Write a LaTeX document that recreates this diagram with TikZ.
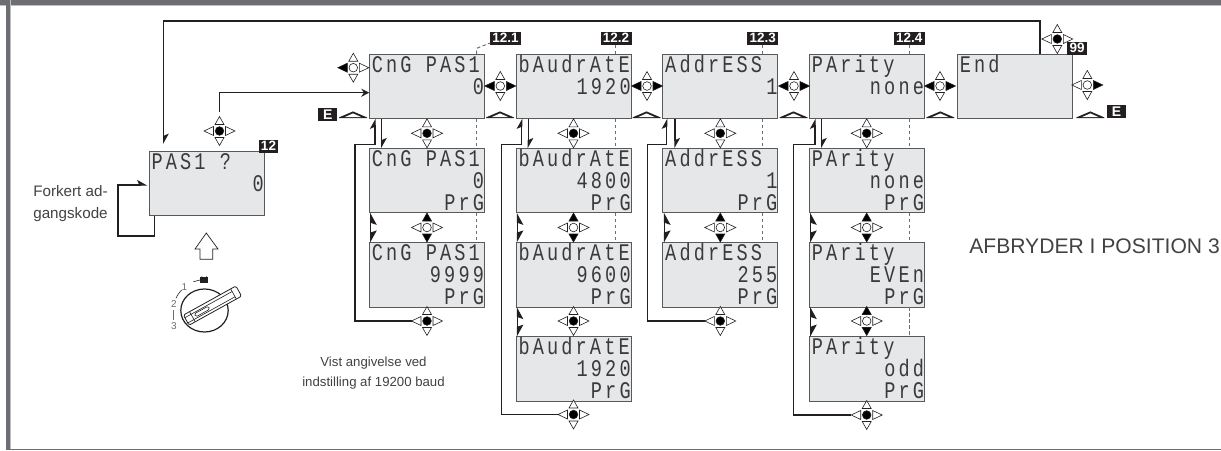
\documentclass[tikz,border=0pt]{standalone}
\usepackage{fontspec}
\setmainfont{Liberation Sans}
\newfontfamily\lcdfont[FakeStretch=0.78,LetterSpace=13.2]{Liberation Mono}
\usetikzlibrary{arrows.meta,calc}
\definecolor{band}{HTML}{6D6E71}
\definecolor{bandlight}{HTML}{BCBEC0}
\definecolor{ink}{HTML}{231F20}
\definecolor{lcdbg}{HTML}{E6E7E8}
\definecolor{lcdedge}{HTML}{58595B}
\definecolor{lcdink}{HTML}{3A3A3C}
\definecolor{kW}{HTML}{FFFFFF}
\definecolor{kB}{HTML}{000000}
\tikzset{
  dispbox/.style={draw=lcdedge,line width=1pt,fill=lcdbg,minimum width=115pt,minimum height=64.5pt,inner sep=0pt,outer sep=0pt,anchor=north west},
  lcdl/.style={font=\lcdfont\fontsize{23.83}{24}\selectfont,text=lcdink,inner sep=0pt,outer sep=0pt,anchor=base west},
  lcdr/.style={font=\lcdfont\fontsize{23.83}{24}\selectfont,text=lcdink,inner sep=0pt,outer sep=0pt,anchor=base east},
  conn/.style={draw=ink,line width=1.4pt,line join=miter},
  harp/.style={-{Stealth[harpoon,length=9pt,width=10pt,inset=2pt]}},
  twohead/.style={draw=ink,line width=1.1pt,{Stealth[harpoon,swap,length=11pt,width=12pt,inset=2pt]}-{Stealth[harpoon,length=11pt,width=12pt,inset=2pt]}},
  dashline/.style={draw=band,line width=1pt,dash pattern=on 3.5pt off 2.5pt},
  tag/.style={fill=ink,text=white,font=\bfseries\fontsize{13.5}{14}\selectfont,inner sep=0pt,outer sep=0pt,minimum height=13pt,anchor=north west},
  kpnode/.style={inner sep=0pt,outer sep=0pt,minimum size=31pt},
  kptri/.style={draw=ink,line width=.6pt,line join=miter},
  note/.style={font=\fontsize{13.2}{16}\selectfont,text=ink!85,inner sep=0pt,outer sep=0pt},
  lockdig/.style={font=\fontsize{10}{10}\selectfont,text=band,inner sep=0pt},
}
% name x y up down left right centre
\newcommand{\kpad}[8]{%
  \node[kpnode] (#1) at (#2,#3) {};
  \begin{scope}[shift={(#2,#3)}]
    \filldraw[kptri,fill=#4] (0,-14.5) -- (4.5,-6.5) -- (-4.5,-6.5) -- cycle;
    \filldraw[kptri,fill=#5] (0,14.5) -- (4.5,6.5) -- (-4.5,6.5) -- cycle;
    \filldraw[kptri,fill=#6] (-15.5,0) -- (-6,4.5) -- (-6,-4.5) -- cycle;
    \filldraw[kptri,fill=#7] (15.5,0) -- (6,4.5) -- (6,-4.5) -- cycle;
    \filldraw[kptri,fill=#8] (0,0) circle (4.3);
  \end{scope}}
% name x y line1 line2 line3
\newcommand{\lcd}[6]{%
  \node[dispbox] (#1) at (#2,#3) {};
  \node[lcdl] (#1-a) at ($(#1.north west)+(2.5,18)$) {#4};
  \node[lcdr] (#1-b) at ($(#1.north east)+(-.3,40)$) {#5};
  \node[lcdr] (#1-c) at ($(#1.north east)+(-.3,62)$) {#6};}
% centre x, base y
\newcommand{\eap}[3]{%
  \node[inner sep=0pt,minimum size=1pt] (#1) at (#2,#3) {};
  \fill[ink] (#2-14,#3) -- (#2,#3-6) -- (#2+14,#3) -- (#2+14,#3+.8) -- (#2-14,#3+.8) -- cycle;
  \fill[white] (#2-8.5,#3-.2) -- (#2,#3-4) -- (#2+8.5,#3-.2) -- cycle;}
\begin{document}
\begin{tikzpicture}[x=1pt,y=-1pt]
\useasboundingbox (0,0) rectangle (1221,450);
% frame
\fill[white] (0,0) rectangle (1221,450);
\fill[bandlight] (0,0) rectangle (1221,5.5);
\fill[band] (0,0) rectangle (1221,4.5);
\fill[band] (6,0) rectangle (10,450);
\fill[bandlight] (10,0) rectangle (11.2,449);
\fill[band] (6,448.6) rectangle (1221,449.8);

% displays
\lcd{dA}{149}{151}{PAS1 ?}{0}{}
\lcd{a1}{369.3}{54}{CnG PAS1}{0}{}
\lcd{b1}{516}{54}{bAudrAtE}{1920}{}
\lcd{c1}{662.7}{54}{AddrESS}{1}{}
\lcd{e1}{809.3}{54}{PArity}{none}{}
\lcd{f1}{957.3}{54}{End}{}{}
\lcd{a2}{369.3}{148.3}{CnG PAS1}{0}{PrG}
\lcd{b2}{516}{148.3}{bAudrAtE}{4800}{PrG}
\lcd{c2}{662.7}{148.3}{AddrESS}{1}{PrG}
\lcd{e2}{809.3}{148.3}{PArity}{none}{PrG}
\lcd{a3}{369.3}{242.5}{CnG PAS1}{9999}{PrG}
\lcd{b3}{516}{242.5}{bAudrAtE}{9600}{PrG}
\lcd{c3}{662.7}{242.5}{AddrESS}{255}{PrG}
\lcd{e3}{809.3}{242.5}{PArity}{EVEn}{PrG}
\lcd{b4}{516}{336.7}{bAudrAtE}{1920}{PrG}
\lcd{e4}{809.3}{336.7}{PArity}{odd}{PrG}

% keypads
\kpad{kA}{219.5}{131}{kW}{kW}{kW}{kW}{kB}
\kpad{kL}{353.3}{67.7}{kW}{kW}{kB}{kW}{kW}
\kpad{kab}{500.3}{86}{kW}{kW}{kB}{kB}{kW}
\kpad{kbc}{647}{86}{kW}{kW}{kB}{kB}{kW}
\kpad{kce}{794}{86}{kW}{kW}{kB}{kB}{kW}
\kpad{kef}{940}{86}{kW}{kW}{kB}{kB}{kW}
\kpad{kR}{1087.3}{85}{kW}{kW}{kW}{kB}{kW}
\kpad{kT}{1057.3}{39}{kW}{kW}{kW}{kW}{kB}
\kpad{ka1}{427}{133.3}{kW}{kW}{kW}{kW}{kB}
\kpad{kb1}{573.5}{133.3}{kW}{kW}{kW}{kW}{kB}
\kpad{kc1}{720.3}{133.3}{kW}{kW}{kW}{kW}{kB}
\kpad{ke1}{866.7}{133.3}{kW}{kW}{kW}{kW}{kB}
\kpad{ka2}{427}{227.5}{kB}{kB}{kW}{kW}{kW}
\kpad{kb2}{573.5}{227.5}{kB}{kB}{kW}{kW}{kW}
\kpad{kc2}{720.3}{227.5}{kB}{kB}{kW}{kW}{kW}
\kpad{ke2}{866.7}{227.5}{kB}{kB}{kW}{kW}{kW}
\kpad{ka3}{427}{321}{kW}{kW}{kW}{kW}{kB}
\kpad{kb3}{573.5}{321}{kW}{kW}{kW}{kW}{kB}
\kpad{kc3}{720.3}{321}{kW}{kW}{kW}{kW}{kB}
\kpad{ke3}{866.7}{321}{kB}{kB}{kW}{kW}{kW}
\kpad{kb4}{573.5}{414.5}{kW}{kW}{kW}{kW}{kB}
\kpad{ke4}{866.7}{415}{kW}{kW}{kW}{kW}{kB}

% main connectors
\coordinate (tR) at (1040,21);
\coordinate (tL) at (163.7,21);
\draw[conn,harp,shorten >=7pt] (f1.north -| tR) -- (tR) -- (tL) -- (tL |- dA.north);
\coordinate (eL) at (219.5,92.7);
\draw[conn,-{Stealth[length=8pt,width=8pt]},shorten <=4pt] (kA.north) -- (eL) -- (a1.west |- eL);
\coordinate (fkA) at (154.7,236);
\coordinate (fkB) at (118,236);
\coordinate (fkC) at (118,185);
\draw[conn,harp] (dA.south -| fkA) -- (fkA) -- (fkB) -- (fkC) -- ($(dA.west |- fkC)+(-1.5,0)$);

% value loops: (left line x, up arrow x, down arrow x)
\foreach \n/\L/\U/\D/\kk in {a/355/375/381.7/ka3, b/501.7/521.7/528.3/kb4, c/647.7/666.7/675/kc3, e/793.3/815/821.7/ke4}{
  \coordinate (up\n) at (\U,144.5);
  \coordinate (lf\n) at (\L,144.5);
  \draw[conn,harp] (\kk.west) -- (\kk.west -| lf\n) -- (lf\n) -- (up\n) -- (up\n |- \n1.south);
  \coordinate (dn\n) at (\D,0);
  \draw[conn,harp] (dn\n |- \n1.south) -- (dn\n |- \n2.north);
}

% paired arrowheads between displays
\coordinate (mA) at (370.7,0);
\coordinate (mB) at (517.3,0);
\coordinate (mC) at (664.5,0);
\coordinate (mE) at (810.7,0);
\draw[twohead] (mA |- a2.south) -- (mA |- a3.north);
\draw[twohead] (mB |- b2.south) -- (mB |- b3.north);
\draw[twohead] (mB |- b3.south) -- (mB |- b4.north);
\draw[twohead] (mC |- c2.south) -- (mC |- c3.north);
\draw[twohead] (mE |- e2.south) -- (mE |- e3.north);
\draw[twohead] (mE |- e3.south) -- (mE |- e4.north);

% tags
\node[tag,minimum width=19.6pt] (t12) at (258.7,139.5) {12};
\node[tag,minimum width=31pt] (t121) at (490,31.5) {12.1};
\node[tag,minimum width=31pt] (t122) at (600.5,31.5) {12.2};
\node[tag,minimum width=31pt] (t123) at (747.3,31.5) {12.3};
\node[tag,minimum width=31pt] (t124) at (893.8,31.5) {12.4};
\node[tag,minimum width=19.6pt] (t99) at (1067.3,41.8) {99};
\node[tag,minimum width=19pt,font=\bfseries\fontsize{14}{14}\selectfont] (eL1) at (318.3,108.3) {E};
\node[tag,minimum width=19pt,font=\bfseries\fontsize{14}{14}\selectfont] (eR1) at (1107,105.3) {E};

% dashed guides
\coordinate (gA) at (476.7,0);
\coordinate (gB) at (615.7,0);
\coordinate (gC) at (762.5,0);
\coordinate (gE) at (909,0);
\coordinate (gAk) at (476.7,48.3);
\draw[dashline] (gA |- a1.north) -- (gAk) -- ($(t121.west)+(0,5)$);
\draw[dashline] (gB |- b1.north) -- (gB |- t122.south);
\draw[dashline] (gC |- c1.north) -- (gC |- t123.south);
\draw[dashline] (gE |- e1.north) -- (gE |- t124.south);
\foreach \g/\p/\q in {gA/a1/a2, gA/a2/a3, gB/b1/b2, gB/b2/b3, gC/c1/c2, gC/c2/c3, gE/e1/e2, gE/e2/e3, gE/e3/e4}{
  \draw[dashline] (\g |- \p.south) -- (\g |- \q.north);
}

% enter marks
\eap{m0}{353}{117.4}
\eap{m1}{500}{117.4}
\eap{m2}{646.5}{117.4}
\eap{m3}{793.5}{117.4}
\eap{m4}{940.3}{117.4}
\eap{m5}{1090.3}{117.4}

% hollow up arrow
\filldraw[draw=ink,line width=.7pt,fill=white,line join=miter] (206.3,233) -- (218,249) -- (212.7,249) -- (212.7,259.3) -- (200,259.3) -- (200,249) -- (195,249) -- cycle;

% rotary switch
\draw[ink,line width=1.2pt,fill=white] (204.5,310.5) ellipse (23.7 and 21.5);
\begin{scope}[shift={(212.5,305.6)},rotate=29]
  \filldraw[draw=ink,line width=.8pt,fill=white,rounded corners=1.5pt] (-30,-5.8) rectangle (30,5.8);
  \draw[ink,line width=.6pt] (-30,-2.8) -- (24,-2.8);
  \draw[ink,line width=.6pt] (-30,3.2) -- (24,3.2);
  \draw[ink,line width=.6pt] (24,-5.8) -- (24,5.8);
  \draw[ink,line width=.6pt] (-23,-5.8) -- (-23,5.8);
  \draw[ink,line width=.6pt,rounded corners=1.5pt] (-20,-1.6) rectangle (-4,1.8);
\end{scope}
\fill[ink] (200.3,276.5) rectangle (208.3,283);
\draw[ink,line width=.9pt] (201.8,276.5) arc[start angle=180,end angle=0,radius=2.5];
\draw[ink,line width=.6pt] (193.3,281.7) to[bend right=8] (200,280);
\draw[ink,line width=.6pt] (181.7,290) to[bend right=10] (176,298.3);
\draw[band,line width=.9pt] (173.5,310) -- (173.5,320);
\node[lockdig] (n1) at (184.3,286.7) {1};
\node[lockdig] (n2) at (174,304) {2};
\node[lockdig] (n3) at (174,325.7) {3};

% notes
\node[note,font=\fontsize{15.2}{16}\selectfont,anchor=base west] (nF) at (33.3,196.7) {Forkert ad-};
\node[note,font=\fontsize{15.2}{16}\selectfont,anchor=base west] (nG) at (33.3,218) {gangskode};
\node[note,anchor=base] (nV) at (373.5,366.7) {Vist angivelse ved};
\node[note,anchor=base] (nI) at (373.5,386) {indstilling af 19200 baud};
\node[note,font=\fontsize{21.1}{22}\selectfont,anchor=base west] (nP) at (969.3,253.3) {AFBRYDER I POSITION 3};
\end{tikzpicture}
\end{document}
